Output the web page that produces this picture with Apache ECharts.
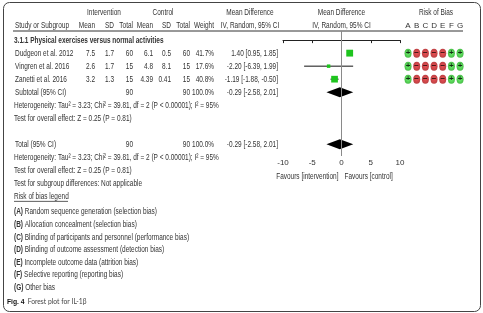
<!DOCTYPE html>
<html>
<head>
<meta charset="utf-8">
<script src="https://cdn.jsdelivr.net/npm/echarts@6/dist/echarts.min.js"></script>
<style>
html, body { margin: 0; padding: 0; background: #fff; }
#main { width: 483px; height: 313px; }
</style>
</head>
<body>
<div id="main"></div>
<script>
// study data
const studies = ['Dudgeon et al. 2012', 'Vingren et al. 2016', 'Zanetti et al. 2016'];
const intMean = ['7.5', '2.6', '3.2'];
const intSD = ['1.7', '1.7', '1.3'];
const intTotal = ['60', '15', '15'];
const ctlMean = ['6.1', '4.8', '4.39'];
const ctlSD = ['0.5', '8.1', '0.41'];
const ctlTotal = ['60', '15', '15'];
const weights = [41.7, 17.6, 40.8];
const md = [1.40, -2.20, -1.19];
const ciLow = [0.95, -6.39, -1.88];
const ciHigh = [1.85, 1.99, -0.50];
const studyRows = [1, 2, 3];

// pooled (subtotal and total are the same)
const pooledRows = [4, 8];
const pooledMD = [-0.29, -0.29];
const pooledLow = [-2.58, -2.58];
const pooledHigh = [2.01, 2.01];

// risk of bias
const robDomains = ['A', 'B', 'C', 'D', 'E', 'F', 'G'];
const robJudgements = [
  ['+', '-', '-', '-', '-', '+', '+'],
  ['+', '-', '-', '-', '-', '+', '+'],
  ['+', '-', '-', '-', '-', '+', '+']
];
const robLegend = [
  ['(A)', 'Random sequence generation (selection bias)'],
  ['(B)', 'Allocation concealment (selection bias)'],
  ['(C)', 'Blinding of participants and personnel (performance bias)'],
  ['(D)', 'Blinding of outcome assessment (detection bias)'],
  ['(E)', 'Incomplete outcome data (attrition bias)'],
  ['(F)', 'Selective reporting (reporting bias)'],
  ['(G)', 'Other bias']
];
const xTicks = { min: -10, max: 10, step: 5 };

const FF = '"Liberation Sans", Arial, sans-serif';
const FS = 9;
const NARROW = 0.72; // squeeze to look like Arial Narrow
const TXT = '#333';
const Y_MIN = -0.7, Y_MAX = 8.9;

const chart = echarts.init(document.getElementById('main'));

const greenGrad = {
  type: 'radial', x: 0.5, y: 0.5, r: 0.6,
  colorStops: [{ offset: 0, color: '#4cf04c' }, { offset: 1, color: '#10a010' }]
};
const redGrad = {
  type: 'radial', x: 0.5, y: 0.5, r: 0.6,
  colorStops: [{ offset: 0, color: '#e8262a' }, { offset: 1, color: '#a00c10' }]
};

const robData = [];
robJudgements.forEach((row, i) => {
  row.forEach((j, d) => {
    robData.push({
      value: [d, studyRows[i]],
      itemStyle: { color: j === '+' ? greenGrad : redGrad },
      label: { formatter: j === '+' ? '+' : '\u2212' }
    });
  });
});

const yCommon = { type: 'value', inverse: true, min: Y_MIN, max: Y_MAX, show: false };

chart.setOption({
  animation: false,
  grid: [
    { left: 283, width: 117, top: 31, height: 125 },
    { left: 403.7, width: 60.7, top: 31, height: 125 }
  ],
  xAxis: [
    {
      gridIndex: 0, type: 'value', min: xTicks.min, max: xTicks.max, interval: xTicks.step,
      axisLine: { lineStyle: { color: '#222', width: 1 } },
      axisTick: { length: 3, lineStyle: { color: '#222' } },
      axisLabel: { fontSize: 8, margin: 3, color: TXT, fontFamily: FF },
      splitLine: { show: false }
    },
    {
      gridIndex: 1, type: 'category', data: robDomains, position: 'top',
      axisLine: { show: false }, axisTick: { show: false },
      axisLabel: { fontSize: 8, margin: 1, color: TXT, fontFamily: FF }
    }
  ],
  yAxis: [
    Object.assign({ gridIndex: 0 }, yCommon),
    Object.assign({ gridIndex: 1 }, yCommon)
  ],
  series: [
    {
      type: 'custom', xAxisIndex: 0, yAxisIndex: 0,
      data: studies.map((s, i) => [md[i], ciLow[i], ciHigh[i], studyRows[i], weights[i]]),
      encode: { x: [0, 1, 2], y: 3 },
      renderItem: function (params, api) {
        const m = api.value(0), lo = api.value(1), hi = api.value(2), r = api.value(3), w = api.value(4);
        const a = api.coord([lo, r]), b = api.coord([hi, r]), c = api.coord([m, r]);
        const s = 1 + w * 0.14;
        return {
          type: 'group',
          children: [
            { type: 'line', shape: { x1: a[0], y1: a[1], x2: b[0], y2: b[1] }, style: { stroke: '#111', lineWidth: 1 } },
            { type: 'rect', shape: { x: c[0] - s / 2, y: c[1] - s / 2, width: s, height: s }, style: { fill: '#1ec41e' } }
          ]
        };
      },
      markLine: {
        silent: true, symbol: 'none', label: { show: false },
        lineStyle: { color: '#8a8a8a', width: 1, type: 'solid' },
        data: [{ xAxis: 0 }]
      },
      z: 3
    },
    {
      type: 'custom', xAxisIndex: 0, yAxisIndex: 0,
      data: pooledRows.map((r, i) => [pooledMD[i], pooledLow[i], pooledHigh[i], r]),
      encode: { x: [0, 1, 2], y: 3 },
      renderItem: function (params, api) {
        const m = api.value(0), lo = api.value(1), hi = api.value(2), r = api.value(3);
        const pts = [api.coord([lo, r]), api.coord([m, r - 0.38]), api.coord([hi, r]), api.coord([m, r + 0.38])];
        return { type: 'polygon', shape: { points: pts }, style: { fill: '#000' } };
      },
      z: 4
    },
    {
      type: 'scatter', xAxisIndex: 1, yAxisIndex: 1,
      symbol: 'circle', symbolSize: [7, 9],
      data: robData,
      label: { show: true, position: 'inside', fontSize: 8, fontWeight: 'bold', color: '#000', fontFamily: 'Liberation Sans' }
    }
  ]
});

// table text, placed on the same row scale as the plot
const rowY = r => chart.convertToPixel({ gridIndex: 0 }, [0, r])[1];
const xAt = v => chart.convertToPixel({ gridIndex: 0 }, [v, 0])[0];
const colRight = [95, 114, 133, 153, 171, 190, 214, 278];

function t(text, x, y, align, bold) {
  return {
    type: 'text', silent: true, x: x, y: y, scaleX: NARROW,
    style: {
      text: text, x: 0, y: 0, fill: TXT, font: (bold ? 'bold ' : '') + FS + 'px ' + FF,
      align: align || 'left', verticalAlign: 'middle',
      textAlign: align || 'left', textVerticalAlign: 'middle'
    }
  };
}

const g = [];
g.push({ type: 'rect', silent: true, shape: { x: 3.5, y: 2.5, width: 477, height: 309, r: 6 }, style: { fill: 'none', stroke: '#444', lineWidth: 1 } });
g.push({ type: 'line', silent: true, shape: { x1: 13, y1: 31, x2: 463, y2: 31 }, style: { stroke: '#333', lineWidth: 1 } });

// header
g.push(t('Intervention', 104, 13, 'center'));
g.push(t('Control', 163, 13, 'center'));
g.push(t('Mean Difference', 250, 13, 'center'));
g.push(t('Mean Difference', xAt(0), 13, 'center'));
g.push(t('Risk of Bias', 436, 13, 'center'));
g.push(t('Study or Subgroup', 15, 26));
['Mean', 'SD', 'Total', 'Mean', 'SD', 'Total', 'Weight'].forEach((h, i) => g.push(t(h, colRight[i], 26, 'right')));
g.push(t('IV, Random, 95% CI', 250, 26, 'center'));
g.push(t('IV, Random, 95% CI', xAt(0), 26, 'center'));

g.push(t('3.1.1 Physical exercises versus normal activities', 14, rowY(0), 'left', true));

const fmt = v => v.toFixed(2);
studies.forEach((s, i) => {
  const y = rowY(studyRows[i]);
  const cells = [intMean[i], intSD[i], intTotal[i], ctlMean[i], ctlSD[i], ctlTotal[i], weights[i].toFixed(1) + '%',
    md[i].toFixed(2) + ' [' + fmt(ciLow[i]) + ', ' + fmt(ciHigh[i]) + ']'];
  g.push(t(s, 15, y));
  cells.forEach((c, k) => g.push(t(c, colRight[k], y, 'right')));
});

const sumInt = intTotal.reduce((a, b) => a + Number(b), 0);
const sumCtl = ctlTotal.reduce((a, b) => a + Number(b), 0);
const pooledText = fmt(pooledMD[0]) + ' [' + fmt(pooledLow[0]) + ', ' + fmt(pooledHigh[0]) + ']';
[['Subtotal (95% CI)', pooledRows[0]], ['Total (95% CI)', pooledRows[1]]].forEach(([label, r]) => {
  const y = rowY(r);
  g.push(t(label, 15, y));
  g.push(t(String(sumInt), colRight[2], y, 'right'));
  g.push(t(String(sumCtl), colRight[5], y, 'right'));
  g.push(t('100.0%', colRight[6], y, 'right'));
  g.push(t(pooledText, colRight[7], y, 'right'));
});

const het = 'Heterogeneity: Tau\u00b2 = 3.23; Chi\u00b2 = 39.81, df = 2 (P < 0.00001); I\u00b2 = 95%';
const zTest = 'Test for overall effect: Z = 0.25 (P = 0.81)';
g.push(t(het, 14, rowY(5)));
g.push(t(zTest, 14, rowY(6)));
g.push(t(het, 14, rowY(9)));
g.push(t(zTest, 14, rowY(10)));
g.push(t('Test for subgroup differences: Not applicable', 14, rowY(11)));

// axis captions
const axisY = rowY(Y_MAX);
g.push(t('Favours [intervention]', xAt(0) - 3, axisY + 21, 'right'));
g.push(t('Favours [control]', xAt(0) + 3, axisY + 21, 'left'));

// risk of bias legend
const ly = rowY(12);
g.push(t('Risk of bias legend', 14, ly));
g.push({ type: 'line', silent: true, shape: { x1: 14, y1: ly + 5, x2: 14 + 75 * NARROW, y2: ly + 5 }, style: { stroke: TXT, lineWidth: 0.8 } });
robLegend.forEach(([k, txt], i) => {
  g.push({
    type: 'text', silent: true, x: 14, y: ly + 15.5 + i * 12.6, scaleX: NARROW,
    style: {
      text: '{b|' + k + '} ' + txt, x: 0, y: 0, fill: TXT, font: FS + 'px ' + FF,
      verticalAlign: 'middle', textVerticalAlign: 'middle',
      rich: { b: { fontFamily: FF, fontSize: FS, fontWeight: 'bold', fill: TXT } }
    }
  });
});

// caption
g.push({
  type: 'text', silent: true, x: 7, y: 302, scaleX: 0.9,
  style: {
    text: '{f|Fig. 4} {c|Forest plot for IL-1\u03b2}', x: 0, y: 0,
    verticalAlign: 'middle', textVerticalAlign: 'middle',
    rich: {
      f: { fontFamily: 'Liberation Sans', fontSize: 7.5, fontWeight: 'bold', fill: '#111' },
      c: { fontFamily: 'Lato', fontSize: 7.5, fill: '#444' }
    }
  }
});

chart.setOption({ graphic: g });
</script>
</body>
</html>
